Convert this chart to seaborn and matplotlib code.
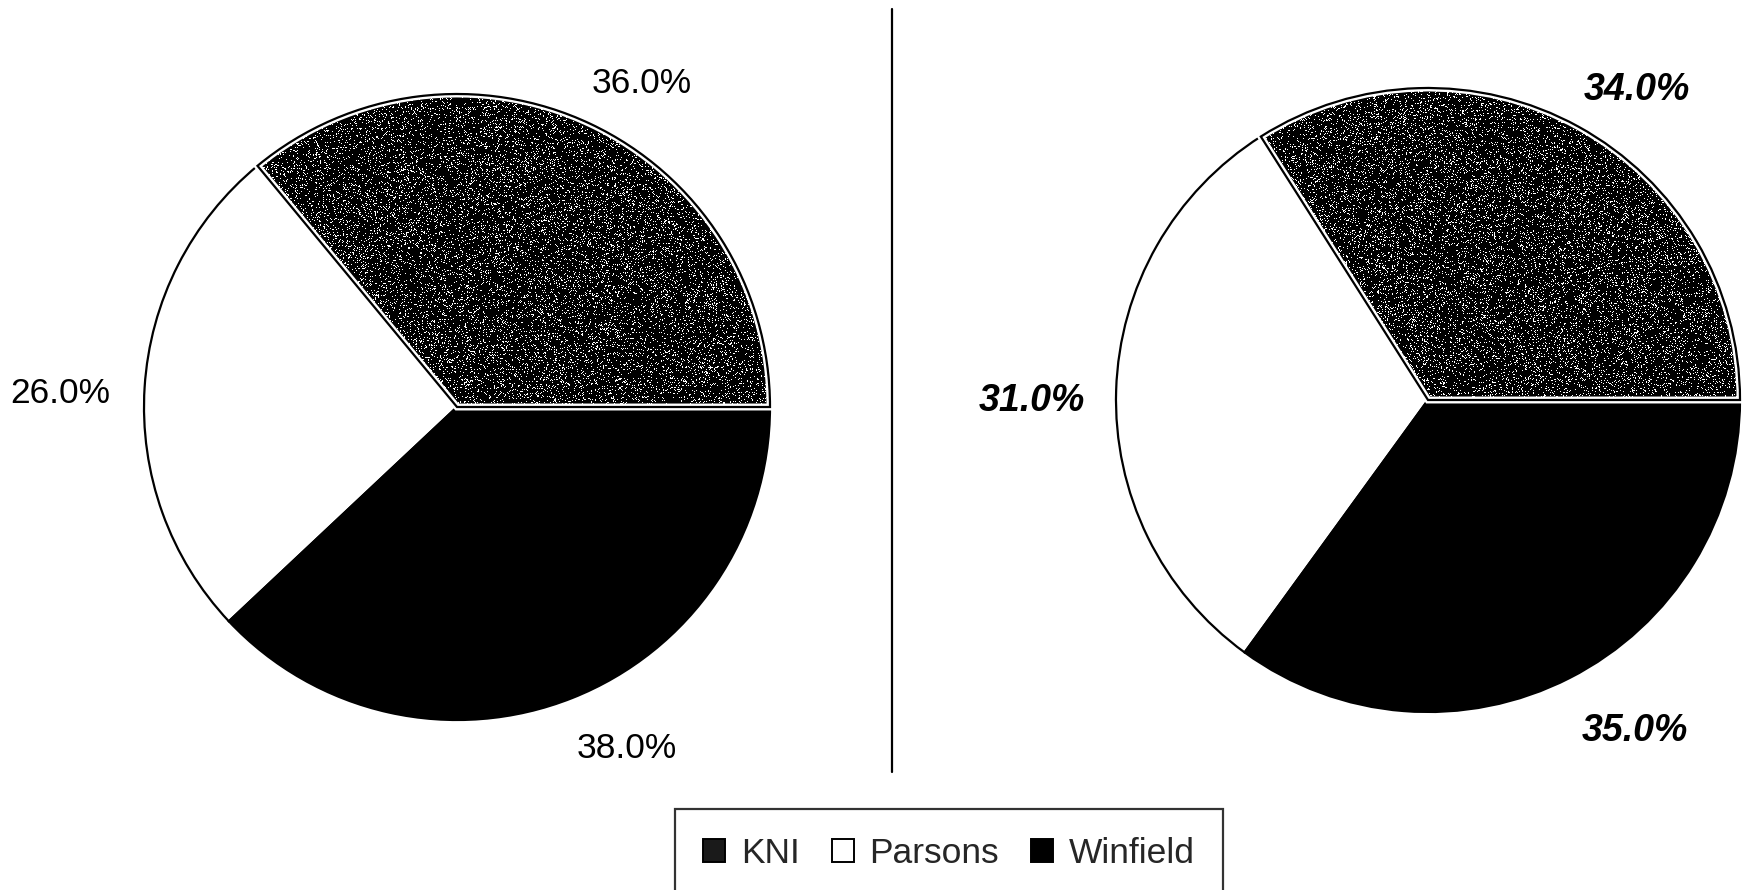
import numpy as np
import matplotlib
matplotlib.use("Agg")
import matplotlib.pyplot as plt
from matplotlib.patches import Patch, PathPatch
import seaborn as sns

# Market share by firm, two periods
firms = ["KNI", "Parsons", "Winfield"]
share_left = [36.0, 26.0, 38.0]
share_right = [34.0, 31.0, 35.0]

firm_colors = ["#1a1a1a", "#ffffff", "#000000"]

sns.set_theme(style="white")
plt.rcParams["font.family"] = ["Liberation Sans", "DejaVu Sans"]

W, H = 1749, 890
fig = plt.figure(figsize=(W / 100, H / 100), dpi=100)
ax = fig.add_axes([0, 0, 1, 1])

rng = np.random.default_rng(11)


def draw_pie(values, center, radius, label_shift, label_radius, text_style):
    wedges, _ = ax.pie(values, colors=firm_colors, startangle=0, counterclock=True,
                       center=center, radius=radius, frame=True,
                       wedgeprops=dict(edgecolor="black", linewidth=1.6))
    # stippled fill for the first slice
    x0, y0 = center
    n = int(2 * radius)
    speck = (rng.random((n, n)) < 0.12).astype(float)
    im = ax.imshow(speck, cmap="gray", vmin=0, vmax=1, interpolation="nearest",
                   extent=(x0 - radius, x0 + radius, y0 - radius, y0 + radius), zorder=3)
    im.set_clip_path(wedges[0])
    for col, lw in (("white", 5.0), ("black", 1.6)):
        ax.add_patch(PathPatch(wedges[0].get_path(), transform=wedges[0].get_transform(),
                               fill=False, edgecolor=col, linewidth=lw, zorder=4))
    bounds = np.cumsum([0.0] + list(values)) * 3.6
    for v, a0, a1, sh, rf in zip(values, bounds[:-1], bounds[1:], label_shift, label_radius):
        ang = np.deg2rad((a0 + a1) / 2 + sh)
        d = radius * rf
        ax.text(x0 + d * np.cos(ang), y0 + d * np.sin(ang), f"{v:.1f}%",
                ha="center", va="center_baseline", color="black", **text_style)


draw_pie(share_left, (457, 483), 313, [-4.2, 1.1, 5.1], [1.20, 1.27, 1.21],
         dict(fontsize=25.5))
draw_pie(share_right, (1428, 490), 312, [-4.8, 1.4, 5.4], [1.21, 1.27, 1.24],
         dict(fontsize=27, fontweight="bold", fontstyle="italic"))

# divider between the two pies
ax.plot([892, 892], [118, 881], color="black", linewidth=1.6, zorder=5)

ax.set_xlim(0, W)
ax.set_ylim(0, H)
ax.set_aspect("equal")
ax.axis("off")

handles = [Patch(facecolor=c, edgecolor="black", linewidth=1.4, label=f)
           for c, f in zip(firm_colors, firms)]
leg = fig.legend(handles=handles, loc="upper center", bbox_to_anchor=(949 / W, 1 - 809 / H),
                 ncol=3, fontsize=25.5, frameon=True, fancybox=False, edgecolor="black",
                 handlelength=0.62, handleheight=0.62, handletextpad=0.45,
                 columnspacing=0.9, borderpad=0.8, borderaxespad=0)
leg.get_frame().set_linewidth(1.6)

fig.savefig("out.png", dpi=100, facecolor="white")
